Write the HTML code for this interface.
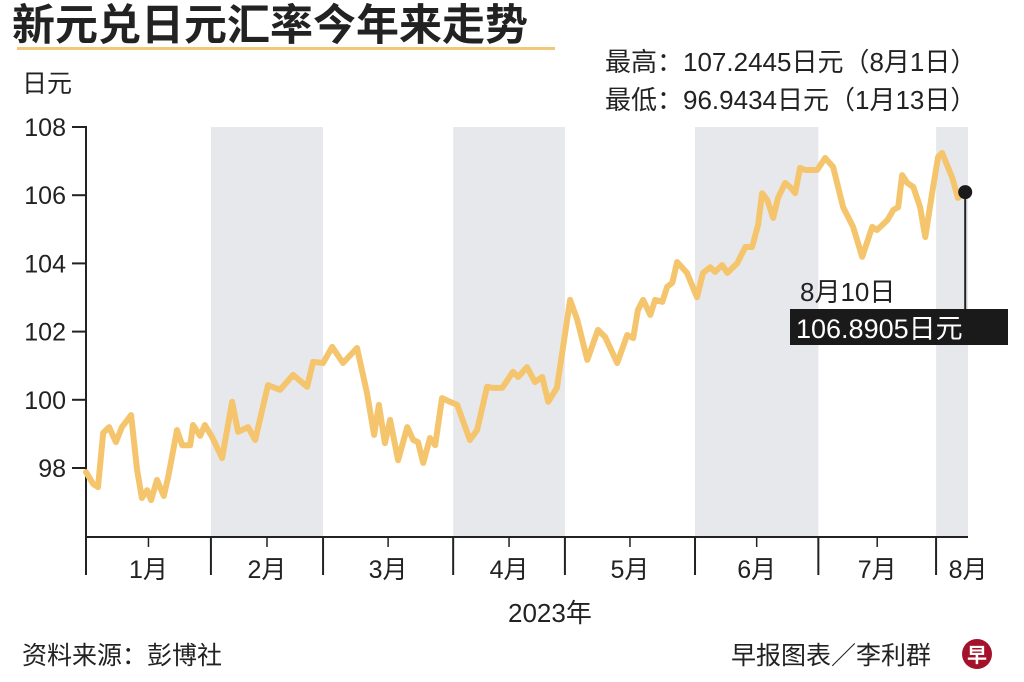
<!DOCTYPE html>
<html><head><meta charset="utf-8"><style>
body{margin:0;background:#fff;}
svg{display:block;font-family:"Liberation Sans","Noto Sans CJK SC",sans-serif;}
</style></head><body>
<svg id="c" width="1024" height="682" viewBox="0 0 1024 682">
<text x="12" y="40" font-size="43" font-weight="bold" fill="#222">新元兑日元汇率今年来走势</text>
<rect x="17" y="47" width="538" height="3" fill="#f0c978"/>
<text x="22" y="92" font-size="25" fill="#222">日元</text>
<text x="605" y="71" font-size="26" fill="#222">最高：107.2445日元（8月1日）</text>
<text x="605" y="109" font-size="26" fill="#222">最低：96.9434日元（1月13日）</text>
<g id="bands"></g>
<g id="axes"></g>
<g id="line"></g>
<text x="800" y="301" font-size="26" fill="#222">8月10日</text>
<rect x="790" y="309" width="218" height="36" fill="#1a1a1a"/>
<text x="796" y="338" font-size="27" fill="#fff">106.8905日元</text>
<text x="508" y="622" font-size="26" fill="#222">2023年</text>
<text x="22" y="664" font-size="25" fill="#222">资料来源：彭博社</text>
<text x="731" y="664" font-size="25" fill="#222">早报图表／李利群</text>
<circle cx="977" cy="654" r="15" fill="#a3122a"/>
<text x="977" y="662" font-size="20" font-weight="bold" fill="#fff" text-anchor="middle">早</text>
</svg>
<script>
const days=[0,1.8,3,4.3,5.8,7.5,9,11.3,12.8,14,15.3,16.3,17.8,19.5,20.6,22.8,24.1,26.1,26.8,28.6,29.8,31.6,34.1,36.6,38.1,40.6,42.4,45.6,48.6,51.9,55.4,56.9,59.4,61.7,64.4,67.9,70.4,72.2,73.4,74.9,76.2,78.2,80.5,82,83.2,84.5,86.2,87.5,89.2,91.2,93,96.2,98,100.5,102,104.3,107,108.3,110.5,112.5,114.3,115.8,118,121.3,123.1,125.6,128.3,130.1,133.1,135.6,137.1,138.3,139.6,141.4,142.6,144.4,145.6,146.9,148.1,150.6,153.1,154.6,156.4,157.6,159.4,160.7,163.2,165.2,166.9,168.4,169.4,170.7,172.2,173.4,175.2,176.4,177.7,178.9,180.2,183.2,185.2,187.2,189.7,192.2,194.5,197,198.2,200.8,202.3,203.5,204.5,205.8,207.3,209,210.3,212,213.5,214.5,217,218.5,220.3];
const rates=[97.88,97.53,97.44,99.03,99.2,98.76,99.2,99.55,97.94,97.12,97.35,97.06,97.65,97.18,97.74,99.11,98.67,98.67,99.26,98.94,99.26,98.91,98.29,99.94,99.06,99.2,98.82,100.43,100.29,100.73,100.38,101.11,101.08,101.55,101.08,101.52,100.2,98.97,99.85,98.73,99.41,98.23,99.2,98.82,98.76,98.15,98.88,98.67,100.05,99.94,99.85,98.82,99.11,100.38,100.35,100.35,100.82,100.67,100.96,100.52,100.67,99.94,100.35,102.93,102.34,101.17,102.05,101.84,101.08,101.9,101.81,102.63,102.93,102.49,102.93,102.87,103.31,103.43,104.04,103.72,103.01,103.72,103.89,103.75,103.95,103.72,104.01,104.48,104.48,105.13,106.06,105.86,105.33,105.92,106.36,106.24,106.06,106.8,106.74,106.74,107.09,106.83,105.65,105.07,104.19,105.07,104.98,105.27,105.57,105.65,106.59,106.36,106.24,105.65,104.77,106.06,107.12,107.24,106.53,105.92,106.09];
const yTicks=[98,100,102,104,106,108];
const months=["1月","2月","3月","4月","5月","6月","7月","8月"];
const monthStarts=[0,31.3,59.4,92,120,152.6,183.5,213];
const dayEnd=221;
const ns="http://www.w3.org/2000/svg";
const X0=86,X1=968,Y0=537;
const xs=d=>X0+(X1-X0)*d/dayEnd;
const ys=v=>127+(108-v)*34.1;
function el(t,a,p){const e=document.createElementNS(ns,t);for(const k in a)e.setAttribute(k,a[k]);p.appendChild(e);return e;}
const bands=document.getElementById('bands'),axes=document.getElementById('axes'),line=document.getElementById('line');
months.forEach((m,i)=>{
  const s=monthStarts[i],e=i<months.length-1?monthStarts[i+1]:dayEnd;
  if(i%2===1){const r=el('rect',{x:xs(s),y:127,width:xs(e)-xs(s),height:Y0-127,fill:'#e7e8eb'},bands);
    
    }
  if(i>0){const t=el('line',{x1:xs(s),x2:xs(s),y1:Y0,y2:575,stroke:'#222','stroke-width':2},axes);
    
    }
  const mid=(s+e)/2;
  if(i<months.length-1){const t2=el('line',{x1:xs(mid),x2:xs(mid),y1:Y0,y2:547,stroke:'#222','stroke-width':1.5},axes);
    
    }
  const lb=el('text',{x:i<months.length-1?xs(mid):xs(s)+32,y:578,'font-size':25,fill:'#222','text-anchor':'middle'},axes);
  lb.textContent=m;
  
  
});
const ya=el('line',{x1:X0,x2:X0,y1:126,y2:575,stroke:'#222','stroke-width':2},axes);


const xa=el('line',{x1:X0,x2:X1,y1:Y0,y2:Y0,stroke:'#222','stroke-width':2},axes);


yTicks.forEach(v=>{
  const t=el('line',{x1:72,x2:X0,y1:ys(v),y2:ys(v),stroke:'#222','stroke-width':2},axes);
  
  
  const l=el('text',{x:66,y:ys(v)+9,'font-size':25,fill:'#222','text-anchor':'end'},axes);
  l.textContent=v;
  
  
});
const pts=days.map((d,i)=>xs(d).toFixed(1)+','+ys(rates[i]).toFixed(1)).join(' ');
const pl=el('polyline',{points:pts,fill:'none',stroke:'#f5c56e','stroke-width':6,'stroke-linejoin':'round','stroke-linecap':'round'},line);


const ld=days[days.length-1],lv=rates[rates.length-1];
const ll=el('line',{x1:xs(ld),x2:xs(ld),y1:ys(lv),y2:310,stroke:'#222','stroke-width':2},line);


const dot=el('circle',{cx:xs(ld),cy:ys(lv),r:7,fill:'#1a1a1a'},line);


</script>
</body></html>
